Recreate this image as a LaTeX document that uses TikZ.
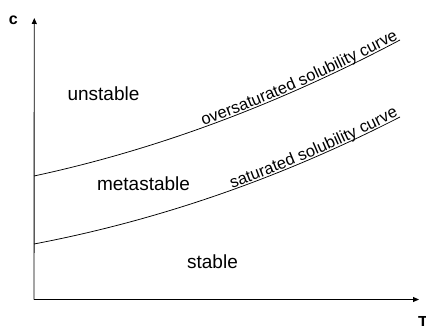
\documentclass[tikz,border=0pt]{standalone}
\usepackage{fontspec}
\setmainfont{Liberation Sans}
\usetikzlibrary{arrows.meta,decorations.text}
\tikzset{
  region/.style={inner sep=0pt, anchor=base, font=\fontsize{19}{22}\selectfont},
  axislabel/.style={inner sep=0pt, anchor=base, font=\fontsize{16}{18}\selectfont\bfseries},
  axis/.style={line width=0.9pt, -{Triangle[length=6pt,width=5pt]}},
  curve/.style={line width=0.75pt},
}
\begin{document}
\begin{tikzpicture}[x=1pt,y=-1pt]
\useasboundingbox (0,0) rectangle (426,326);
\coordinate (O) at (34,299.5);
\coordinate (ytip) at (34.3,18);
\coordinate (xtip) at (419,299.5);
\draw[axis] (O) -- (ytip);
\draw[axis] (O) -- (xtip);
\node[axislabel] (c) at (13.3,25) {c};
\node[axislabel] (T) at (423,327) {T};
\coordinate (u0) at (34,176);
\coordinate (u1) at (400,40);
\coordinate (l0) at (34,244);
\coordinate (l1) at (400,117);
\draw[curve, postaction={decorate, decoration={text along path, text align={align=right, right indent=1pt}, raise=1.8pt,
  text={|\fontsize{16.5}{18}\selectfont|oversaturated solubility curve}}}]
  (u0) .. controls (156,149.8) and (278,104.5) .. (u1);
\draw[curve, postaction={decorate, decoration={text along path, text align={align=right, right indent=1pt}, raise=1.8pt,
  text={|\fontsize{16.5}{18}\selectfont|saturated solubility curve}}}]
  (l0) .. controls (156,220.8) and (278,179.5) .. (l1);
\node[region] (unstable) at (103.5,101) {unstable};
\node[region] (metastable) at (143.5,190) {metastable};
\node[region] (stable) at (212.5,268) {stable};
\end{tikzpicture}
\end{document}
